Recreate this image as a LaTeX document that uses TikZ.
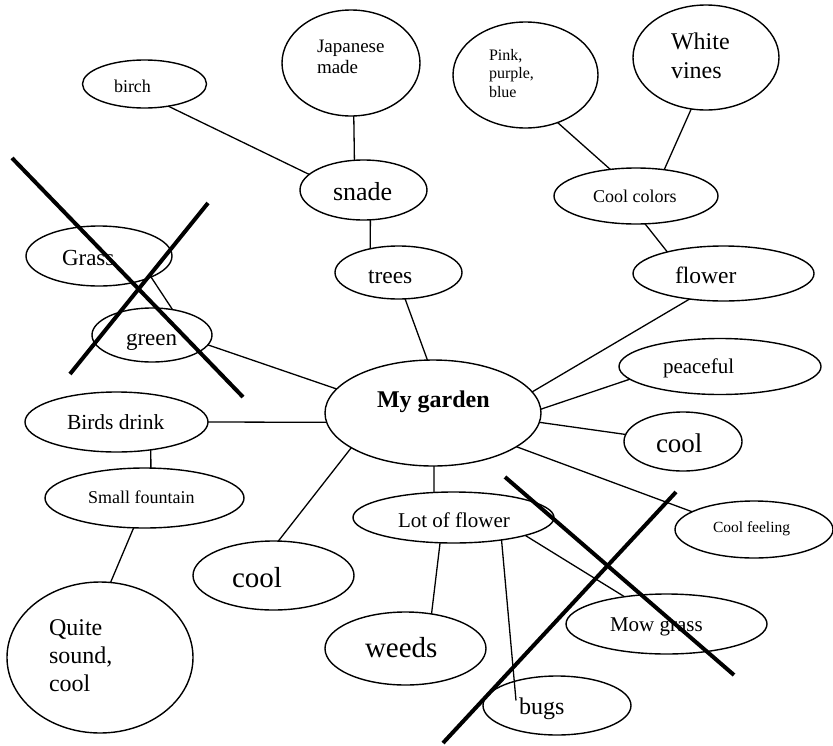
\documentclass[tikz,border=0pt]{standalone}
\usepackage{fontspec}
\setmainfont{Liberation Serif}
\usetikzlibrary{shapes.geometric}
\newlength{\du}
\setlength{\du}{1pt}
\newcommand{\gsize}[2]{\fontsize{#1}{#2}\selectfont}
\tikzset{
  blob/.style={draw, ellipse, line width=1.4\du, inner sep=0pt, outer sep=0pt},
  txt/.style={anchor=base west, inner sep=0pt, outer sep=0pt, align=left},
  link/.style={line width=1.3\du},
  cross/.style={line width=4\du, line cap=butt},
}

\begin{document}
\begin{tikzpicture}
\useasboundingbox (0\du,0\du) rectangle (833\du,-745\du);
% bubbles
\node[blob, minimum width=124\du, minimum height=48\du] (birch) at (144.5\du,-84\du) {};
\node[blob, minimum width=138\du, minimum height=106\du] (japanese) at (351\du,-63\du) {};
\node[blob, minimum width=127\du, minimum height=60\du] (snade) at (363.5\du,-190\du) {};
\node[blob, minimum width=127\du, minimum height=53\du] (trees) at (398.5\du,-272.5\du) {};
\node[blob, minimum width=146\du, minimum height=60\du] (grass) at (99\du,-256\du) {};
\node[blob, minimum width=120\du, minimum height=54\du] (green) at (152\du,-335\du) {};
\node[blob, minimum width=145\du, minimum height=106\du] (pink) at (525.5\du,-75\du) {};
\node[blob, minimum width=146\du, minimum height=105\du] (white) at (706\du,-57.5\du) {};
\node[blob, minimum width=164\du, minimum height=56\du] (coolcolors) at (636\du,-196\du) {};
\node[blob, minimum width=181\du, minimum height=55\du] (flower) at (723.5\du,-273.5\du) {};
\node[blob, minimum width=202\du, minimum height=56\du] (peaceful) at (720\du,-366.5\du) {};
\node[blob, minimum width=216\du, minimum height=106\du] (garden) at (433\du,-413\du) {};
\node[blob, minimum width=118\du, minimum height=59\du] (coolr) at (683\du,-441.5\du) {};
\node[blob, minimum width=158\du, minimum height=57\du] (coolfeel) at (754\du,-529.5\du) {};
\node[blob, minimum width=183\du, minimum height=60\du] (birds) at (116.5\du,-422\du) {};
\node[blob, minimum width=199\du, minimum height=60\du] (fountain) at (144.5\du,-498\du) {};
\node[blob, minimum width=161\du, minimum height=69\du] (coolleft) at (273.5\du,-575.5\du) {};
\node[blob, minimum width=186\du, minimum height=151\du] (quite) at (100\du,-657.5\du) {};
\node[blob, minimum width=201\du, minimum height=51\du] (lot) at (453.5\du,-517.5\du) {};
\node[blob, minimum width=161\du, minimum height=73\du] (weeds) at (405.5\du,-648.5\du) {};
\node[blob, minimum width=201\du, minimum height=60\du] (mow) at (666.5\du,-624\du) {};
\node[blob, minimum width=148\du, minimum height=59\du] (bugs) at (557\du,-705.5\du) {};
% texts (multi line ones sit on their last line)
\node[txt, font=\gsize{18}{21}] (birch-t) at (114\du,-92\du) {birch};
\node[txt, font=\gsize{19}{21}] (japanese-t) at (317\du,-73\du) {Japanese\\made};
\node[txt, font=\gsize{26}{30}] (snade-t) at (333\du,-200\du) {snade};
\node[txt, font=\gsize{23.5}{27}] (trees-t) at (368\du,-283\du) {trees};
\node[txt, font=\gsize{23}{27}] (grass-t) at (62\du,-265\du) {Grass};
\node[txt, font=\gsize{23}{27}] (green-t) at (126\du,-345\du) {green};
\node[txt, font=\gsize{16}{18.5}] (pink-t) at (489\du,-97\du) {Pink,\\purple,\\blue};
\node[txt, font=\gsize{24}{28.5}] (white-t) at (671\du,-78\du) {White\\vines};
\node[txt, font=\gsize{18}{21}] (coolcolors-t) at (593\du,-202\du) {Cool colors};
\node[txt, font=\gsize{23.5}{27}] (flower-t) at (675\du,-283\du) {flower};
\node[txt, font=\gsize{21}{25}] (peaceful-t) at (663\du,-373\du) {peaceful};
\node[txt, font=\gsize{24}{28}\bfseries] (garden-t) at (377\du,-407\du) {My garden};
\node[txt, font=\gsize{27}{31}] (coolr-t) at (656\du,-452\du) {cool};
\node[txt, font=\gsize{15.5}{18}] (coolfeel-t) at (713\du,-532\du) {Cool feeling};
\node[txt, font=\gsize{21.5}{25}] (birds-t) at (67\du,-429\du) {Birds drink};
\node[txt, font=\gsize{18}{21}] (fountain-t) at (88\du,-503\du) {Small fountain};
\node[txt, font=\gsize{29}{33}] (coolleft-t) at (232\du,-587\du) {cool};
\node[txt, font=\gsize{24}{28}] (quite-t) at (49\du,-691\du) {Quite\\sound,\\cool};
\node[txt, font=\gsize{21}{25}] (lot-t) at (398\du,-527\du) {Lot of flower};
\node[txt, font=\gsize{29}{33}] (weeds-t) at (365\du,-657\du) {weeds};
\node[txt, font=\gsize{21}{25}] (mow-t) at (610\du,-631\du) {Mow grass};
\node[txt, font=\gsize{24}{28}] (bugs-t) at (519\du,-714\du) {bugs};
% links
\draw[link] (birch.-43) -- (snade.164);
\draw[link] (japanese.-87) -- (snade.107);
\draw[link] (snade.-77) -- (trees.140);
\draw[link] (trees.-76) -- (garden.96);
\draw[link] (grass.-22) -- (green.51);
\draw[link] (green.-10) -- (garden.166);
\draw[link] (pink.-56) -- (coolcolors.134);
\draw[link] (white.-106) -- (coolcolors.43);
\draw[link] (coolcolors.-72) -- (flower.159);
\draw[link] (flower.217) -- (garden.12);
\draw[link] (peaceful.188) -- (garden.2);
\draw[link] (coolr.173) -- (garden.-5);
\draw[link] (coolfeel.164) -- (garden.-22);
\draw[link] (garden.-89) -- (lot.128);
\draw[link] (lot.242) -- (weeds.53);
\draw[link] (lot.-25) -- ([shift={(-41\du,5\du)}]bugs.center);
\draw[link] (lot.-14) -- (mow.147);
\draw[link] (birds.east) -- (garden.185);
\draw[link] (birds.-39) -- (fountain.78);
\draw[link] (fountain.250) -- (quite.82);
\draw[link] (garden.203) -- (coolleft.82);
% crossed out
\draw[cross] (12\du,-158\du) -- (243\du,-397\du);
\draw[cross] (208\du,-203\du) -- (70\du,-374\du);
\draw[cross] (505\du,-477\du) -- (734\du,-675\du);
\draw[cross] (676\du,-492\du) -- (443\du,-743\du);
\end{tikzpicture}
\end{document}
